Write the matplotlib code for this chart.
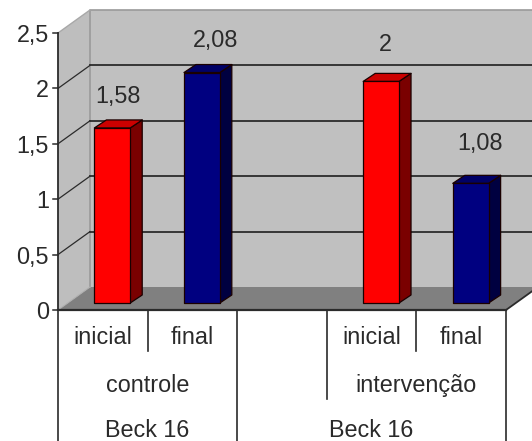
import matplotlib
matplotlib.use("Agg")
import matplotlib.pyplot as plt
from matplotlib.patches import Polygon
from matplotlib.transforms import Affine2D

plt.rcParams['font.family'] = ['Liberation Sans', 'DejaVu Sans']

# Values
bar_slots = [0, 1, 3, 4]
values = [1.58, 2.08, 2.0, 1.08]
value_labels = ['1,58', '2,08', '2', '1,08']
phases = ['inicial', 'final', 'inicial', 'final']
groups = ['controle', 'intervenção']
group_spans = [(0, 2), (3, 5)]
studies = ['Beck 16', 'Beck 16']
study_spans = [(0, 2), (2, 5)]
y_ticks = [0, 0.5, 1, 1.5, 2, 2.5]
y_labels = ['0', '0,5', '1', '1,5', '2', '2,5']

# Layout, in pixels of the 100 dpi canvas
W, H = 532, 441
AX_L, AX_R, AX_B, AX_T = 58, 506, 310, 33
DEPTH = (32, 23)
BAR_SHIFT = (9.5, 7)
BAR_DEPTH = (12, 8)
BAR_WIDTH = 0.40
label_nudges = [(15, 34), (23, 35), (14, 39), (19, 42)]
COL_LINE = '#2b2b2b'
COL_TEXT = '#2a2a2a'
FONT = 16.8

fig = plt.figure(figsize=(W / 100, H / 100), dpi=100, facecolor='white')
ax = fig.add_axes([AX_L / W, 1 - AX_B / H, (AX_R - AX_L) / W, (AX_B - AX_T) / H])
ax.set_xlim(0, 5)
ax.set_ylim(0, 2.5)
ax.axis('off')


def shifted(dx, dy):
    return ax.transData + Affine2D().translate(dx, dy)


def px_per_x():
    return (AX_R - AX_L) / 5


def px_per_y():
    return (AX_B - AX_T) / 2.5


def depth_point(x, y, frac=1.0):
    return (x + frac * DEPTH[0] / px_per_x(), y + frac * DEPTH[1] / px_per_y())


def poly(points, face, edge='none', lw=0.0, z=1, transform=None):
    ax.add_patch(Polygon(points, closed=True, facecolor=face, edgecolor=edge, linewidth=lw,
                         zorder=z, clip_on=False, transform=transform or ax.transData,
                         joinstyle='round'))


# Back wall, side wall and floor
back = [depth_point(0, 0), depth_point(5, 0), depth_point(5, 2.5), depth_point(0, 2.5)]
poly(back, '#c0c0c0', z=1)
poly([(0, 0), depth_point(0, 0), depth_point(0, 2.5), (0, 2.5)], '#bebebe', z=1)
poly([(0, 0), (5, 0), depth_point(5, 0), depth_point(0, 0)], '#808080', z=2)

# Wall outlines
ax.plot(*zip(depth_point(0, 0), depth_point(0, 2.5), depth_point(5.2, 2.5)),
        color='#9a9a9a', lw=1.2, zorder=2, clip_on=False)
ax.plot(*zip((0, 2.5), depth_point(0, 2.5)), color='#a8a8a8', lw=1.0, zorder=2, clip_on=False)

# Gridlines on the back wall with their diagonal return on the side wall
for tick in y_ticks[1:-1]:
    ax.plot(*zip(depth_point(0, tick), depth_point(5.2, tick)),
            color=COL_LINE, lw=1.3, zorder=3, clip_on=False)
    ax.plot(*zip((0, tick), depth_point(0, tick)), color=COL_LINE, lw=0.9, zorder=3, clip_on=False)

# Axis lines, y ticks and floor edge
ax.plot([0, 0], [0, 2.5], color=COL_LINE, lw=1.3, zorder=6, clip_on=False)
ax.plot([0, 5], [0, 0], color=COL_LINE, lw=1.6, zorder=6, clip_on=False)
ax.plot(*zip((5, 0), depth_point(5, 0)), color=COL_LINE, lw=1.3, zorder=6, clip_on=False)
ax.plot(*zip((0, 0), depth_point(0, 0)), color='#b0b0b0', lw=0.8, zorder=3, clip_on=False)
tick_tf = shifted(-5, 0)
for tick, text in zip(y_ticks, y_labels):
    ax.plot([0, 5 / px_per_x()], [tick, tick], color=COL_LINE, lw=1.1, zorder=6,
            clip_on=False, transform=tick_tf)
    ax.annotate(text, (0, tick), xytext=(-9, 0), textcoords='offset pixels', ha='right',
                va='center_baseline', fontsize=FONT, color=COL_TEXT, annotation_clip=False)

# Three dimensional bars
bar_tf = shifted(*BAR_SHIFT)
ddx = BAR_DEPTH[0] / px_per_x()
ddy = BAR_DEPTH[1] / px_per_y()
for i, (slot, value) in enumerate(zip(bar_slots, values)):
    front, top, side = (('#ff0000', '#cc0000', '#7a0000') if i % 2 == 0
                        else ('#000080', '#000066', '#000040'))
    x0 = slot + 0.5 - BAR_WIDTH / 2
    x1 = slot + 0.5 + BAR_WIDTH / 2
    z = 4 + i * 0.01
    poly([(x1, 0), (x1 + ddx, ddy), (x1 + ddx, value + ddy), (x1, value)], side,
         '#1a0000', 0.9, z, bar_tf)
    poly([(x0, value), (x1, value), (x1 + ddx, value + ddy), (x0 + ddx, value + ddy)], top,
         '#1a0000', 0.9, z, bar_tf)
    poly([(x0, 0), (x1, 0), (x1, value), (x0, value)], front, '#1a0000', 0.9, z, bar_tf)
    nudge = label_nudges[i]
    ax.annotate(value_labels[i], (slot + 0.5, value), xytext=(nudge[0], nudge[1] + 7),
                textcoords='offset pixels', ha='center', va='center_baseline',
                fontsize=FONT, color=COL_TEXT, zorder=7, annotation_clip=False)

# Multi level category axis below the chart
row_y = [-25, -73, -118]
for slot, text in zip(bar_slots, phases):
    ax.annotate(text, (slot + 0.5, 0), xytext=(0, row_y[0]), textcoords='offset pixels',
                ha='center', va='center_baseline', fontsize=FONT, color=COL_TEXT,
                annotation_clip=False)
for (a, b), text in zip(group_spans, groups):
    ax.annotate(text, ((a + b) / 2, 0), xytext=(0, row_y[1]), textcoords='offset pixels',
                ha='center', va='center_baseline', fontsize=FONT, color=COL_TEXT,
                annotation_clip=False)
for (a, b), text in zip(study_spans, studies):
    ax.annotate(text, ((a + b) / 2, 0), xytext=(0, row_y[2]), textcoords='offset pixels',
                ha='center', va='center_baseline', fontsize=FONT, color=COL_TEXT,
                annotation_clip=False)

# Category separators, each reaching the bottom of its level
level_depth_px = {1: 41, 2: 89, 3: 135}
separators = [(0, 3), (1, 1), (2, 3), (3, 2), (4, 1), (5, 3)]
for slot, level in separators:
    ax.plot([slot, slot], [0, -level_depth_px[level] / px_per_y()], color=COL_LINE, lw=1.2,
            zorder=6, clip_on=False)

fig.savefig('out.png', dpi=100, facecolor='white')
